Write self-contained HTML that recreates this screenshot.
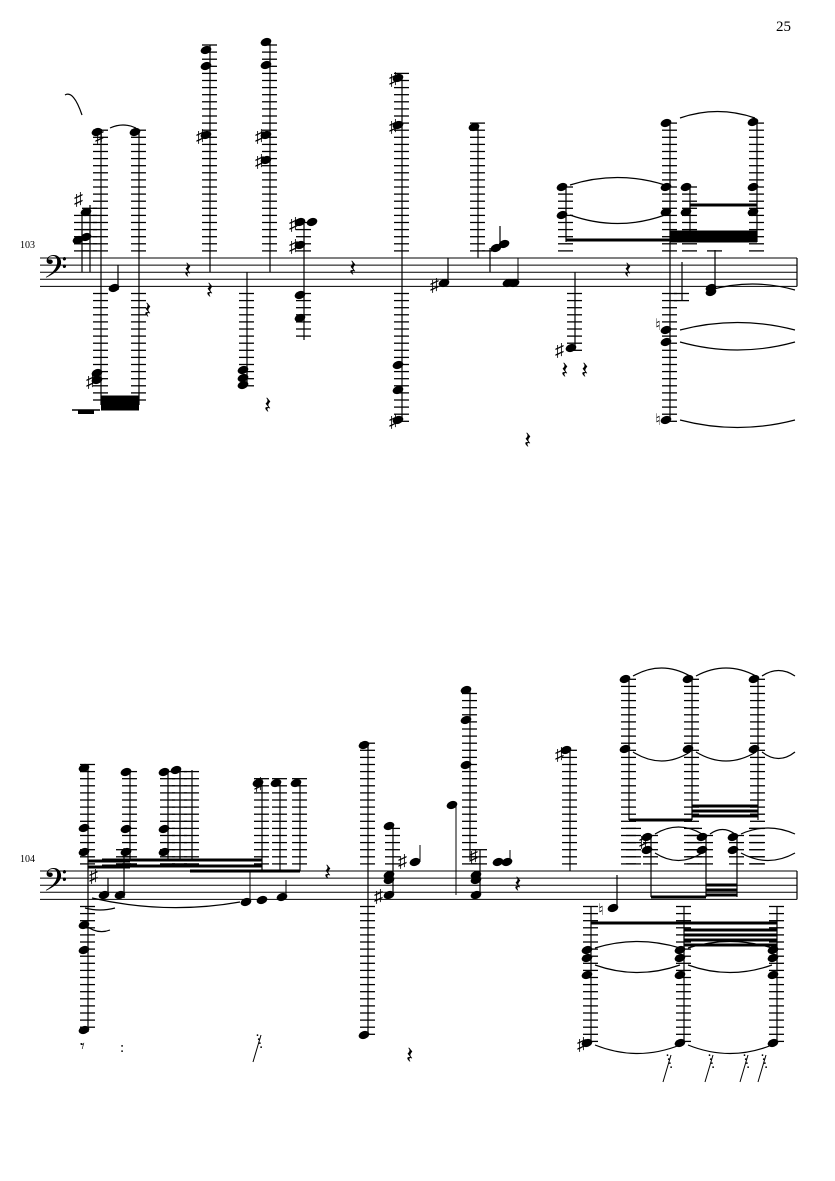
<!DOCTYPE html>
<html><head><meta charset="utf-8"><style>
html,body{margin:0;padding:0;background:#fff;width:835px;height:1181px;overflow:hidden}
svg{position:absolute;left:0;top:0}
text{font-family:"Liberation Serif","DejaVu Serif",serif;fill:#000}
</style></head><body>
<svg id="s" width="835" height="1181" viewBox="0 0 835 1181">
<text x="776" y="31" font-size="15">25</text>
<text x="20" y="248" font-size="10">103</text>
<text x="20" y="862" font-size="10">104</text>
<text x="43" y="284" font-size="38">𝄢</text>
<text x="43" y="897" font-size="38">𝄢</text>
</svg>
<script>
const s=document.getElementById('s');let h='';
function L(x1,y1,x2,y2,w){h+=`<line x1="${x1}" y1="${y1}" x2="${x2}" y2="${y2}" stroke="#000" stroke-width="${w||1}"/>`;}
function staff(t){for(let i=0;i<5;i++)L(40,t+i*7.1,797,t+i*7.1,1);L(797,t,797,t+28.4,1.2);}
function N(x,y){h+=`<ellipse cx="${x}" cy="${y}" rx="5.5" ry="3.9" transform="rotate(-20 ${x} ${y})"/>`;}
function T(x,y,c,fs){h+=`<text x="${x}" y="${y}" font-size="${fs||15}">${c}</text>`;}
function S(x,y){T(x,y,'♯',18);}
function led(x,t,from,to){
 let a=Math.min(from,to),b=Math.max(from,to);
 for(let y=t-7.1;y>=a-2;y-=7.1)L(x-8,y,x+7,y,1.3);
 for(let y=t+35.5;y<=b+2;y+=7.1)L(x-8,y,x+7,y,1.3);}
function ST(x,y1,y2,t,notes){L(x,y1,x,y2,1.2);led(x,t,y1,y2);(notes||[]).forEach(n=>N(x-4,n));}
function B(x1,x2,y,n,d){for(let i=0;i<n;i++)L(x1,y+i*d,x2,y+i*d,3);}
function R(x,y){T(x-6,y+8,'𝄽',24);}
function slur(x1,y1,x2,y2,c){h+=`<path d="M${x1} ${y1} Q${(x1+x2)/2} ${c} ${x2} ${y2}" fill="none" stroke="#000" stroke-width="1.2"/>`;}
let t=258;staff(t);
ST(90,205,272,t,[237,212]);S(74,205);ST(82,215,272,t,[240]);
ST(101,130,405,t,[132,373,380]);S(86,387);S(95,142);
ST(139,130,405,t,[132]);B(101,139,397,5,3);
h+=`<rect x="78" y="410" width="16" height="4"/>`;L(72,410,100,410,1.5);
ST(118,265,290,t,[288]);
slur(65,95,82,115,90);slur(110,128,136,128,122);
ST(210,45,272,t,[50,66,135]);S(196,142);
ST(270,40,272,t,[42,65,135,160]);S(255,142);S(255,167);
ST(247,272,385,t,[370,378,385]);
ST(304,220,340,t,[222,245,295,318]);S(289,230);S(289,252);N(312,222);
ST(402,75,420,t,[78,125,365,390,420]);S(389,85);S(389,132);S(389,427);
ST(448,258,283,t,[283]);S(430,291);
ST(478,125,258,t,[127]);N(496,248);N(504,244);L(500,244,500,226,1.2);
ST(490,248,272,t,[]);N(508,283);N(514,283);L(518,283,518,258,1);
ST(575,272,350,t,[348]);S(555,356);
ST(566,185,242,t,[187,215]);ST(670,120,420,t,[123,187,212,330,342,420]);T(655,330,'♮',16);T(655,425,'♮',16);
ST(690,185,242,t,[187,212]);ST(757,120,242,t,[122,187,212]);
B(566,670,240,1,0);B(670,757,232,4,3);L(690,205,757,205,3);
slur(680,118,755,118,105);slur(570,185,665,185,170);slur(570,215,665,215,232);
slur(680,330,795,330,315);slur(680,342,795,342,358);slur(680,420,795,420,435);slur(710,290,795,290,278);
ST(715,250,290,t,[288,292]);ST(682,262,300,t,[]);
[[190,270],[212,290],[150,310],[270,405],[355,268],[530,440],[567,370],[587,370],[630,270]].forEach(r=>R(r[0],r[1]));
t=871;staff(t);
ST(88,765,1032,t,[768,828,852,925,950,1030]);
ST(130,770,860,t,[772,829,852]);ST(168,770,860,t,[772,829,852]);ST(180,770,860,t,[770]);ST(192,770,860,t,[]);
L(88,861,130,861,3);L(88,867,130,867,3);B(102,262,860,2,6);
ST(108,878,895,t,[895]);ST(124,848,898,t,[895]);S(89,882);
slur(92,898,240,902,915);slur(85,908,115,908,912);slur(85,925,110,930,935);
N(246,902);L(250,902,250,871,1);N(262,900);N(282,897);L(286,897,286,880,1);
ST(262,780,871,t,[783]);ST(280,780,871,t,[783]);ST(300,780,871,t,[783]);S(254,790);
L(190,871,300,871,3);
ST(368,745,1035,t,[745,1035]);R(330,872);R(412,1055);
ST(393,825,895,t,[826,875,880,895]);S(374,902);N(415,862);S(398,867);L(420,862,420,845,1);
ST(470,690,860,t,[690,720,765]);N(452,805);L(456,805,456,895,1);
ST(480,850,895,t,[875,880,895]);S(469,862);N(498,862);N(507,862);L(510,862,510,850,1);
R(520,884);
ST(570,750,871,t,[750]);S(555,760);N(613,908);L(617,908,617,875,1.2);T(598,915,'♮',16);
ST(629,679,820,t,[679,749]);ST(692,679,820,t,[679,749]);ST(758,679,820,t,[679,749]);
L(629,820,692,820,3);B(692,758,806,3,5);
slur(633,676,690,676,660);slur(696,676,756,676,660);slur(762,676,795,676,665);
slur(633,752,690,752,770);slur(696,752,756,752,770);slur(762,752,795,752,765);
led(634,t,828,840);led(695,t,828,840);led(757,t,828,840);
ST(651,837,897,t,[837,850]);ST(706,837,897,t,[837,850]);ST(737,837,897,t,[837,850]);S(639,847);
L(651,897,706,897,3);B(706,737,885,3,5);
slur(655,834,702,834,820);slur(655,853,702,853,868);slur(710,834,735,834,825);slur(741,834,795,834,822);slur(741,853,795,853,868);
ST(591,906,1043,t,[950,958,975,1043]);ST(684,906,1043,t,[950,958,975,1043]);ST(777,906,1043,t,[950,958,975,1043]);
S(577,1050);L(591,923,777,923,3);B(684,777,930,4,5);
slur(595,948,680,948,935);slur(595,965,680,965,980);slur(595,1045,680,1045,1062);
slur(688,948,772,948,935);slur(688,965,772,965,980);slur(688,1045,772,1045,1062);
[[665,1060],[707,1060],[742,1060],[760,1060],[255,1040]].forEach(p=>{for(let i=0;i<4;i++)T(p[0]+i*1.2,p[1]+i*4,'·');L(p[0]+6,p[1]-5,p[0]-2,p[1]+22,1);});
T(80,1052,'𝄾',18);T(120,1052,':');
s.insertAdjacentHTML('beforeend',h);
</script>
</body></html>
